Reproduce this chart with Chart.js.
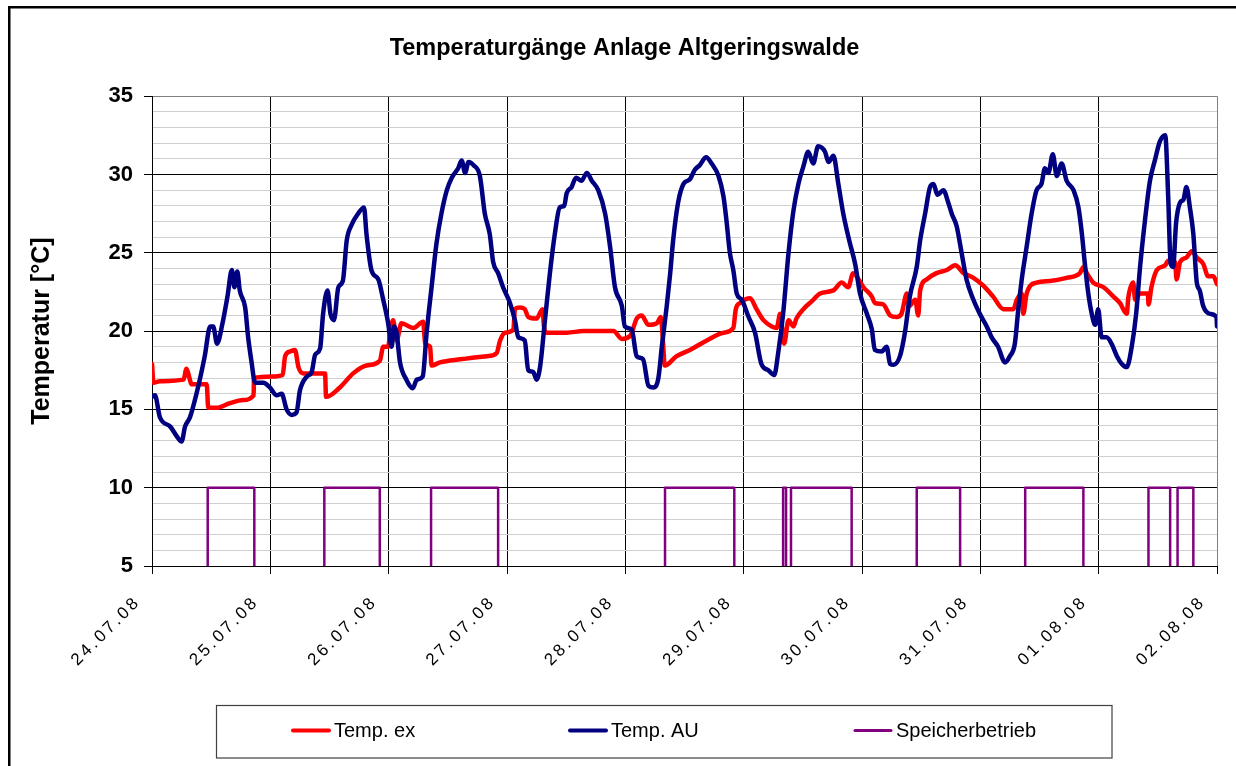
<!DOCTYPE html>
<html>
<head>
<meta charset="utf-8">
<script src="https://cdn.jsdelivr.net/npm/chart.js@4.4.1/dist/chart.umd.min.js"></script>
<style>
  html, body { margin: 0; padding: 0; background: #fff; }
  #wrap { width: 1236px; height: 766px; }
</style>
</head>
<body>
<div id="wrap"><canvas id="temp-chart"></canvas></div>
<script>
// time axis in hours since 24.07.08 00:00, one tick per day
const dayLabels = ["24.07.08", "25.07.08", "26.07.08", "27.07.08", "28.07.08",
                   "29.07.08", "30.07.08", "31.07.08", "01.08.08", "02.08.08"];

// Temp. ex
const exHours = [0, 0.3, 1.6, 6.4, 7.0, 7.6, 8.0, 11.1, 11.4, 13.1, 15.8, 18.5, 20.6, 20.7, 24.3, 26.5,
  27.0, 28.0, 29.0, 29.7, 30.7, 35.1, 35.3, 38.1, 40.8, 43.5, 46.2, 46.9, 47.9, 48.3, 48.9, 49.6,
  50.6, 53.0, 55.0, 55.4, 56.4, 56.7, 58.4, 62.5, 67.9, 69.9, 70.6, 71.6, 73.3, 73.6, 74.6, 75.6,
  76.3, 78.0, 79.2, 79.5, 80.0, 84.1, 87.5, 93.6, 95.3, 97.0, 98.3, 99.3, 100.7, 102.4, 103.2, 103.6,
  104.0, 106.4, 109.1, 112.5, 115.9, 117.9, 118.4, 119.3, 121.3, 122.6, 124.0, 125.7, 126.7, 127.4,
  128.2, 129.1, 130.1, 130.7, 132.1, 133.8, 135.5, 138.2, 139.9, 141.2, 142.2, 142.9, 144.3, 146.0,
  146.6, 148.3, 149.7, 151.0, 152.0, 153.1, 153.6, 154.8, 155.4, 155.8, 157.1, 159.1, 161.2, 162.9,
  164.6, 166.6, 168.6, 170.6, 172.7, 174.7, 175.4, 176.4, 176.7, 177.4, 179.4, 182.1, 185.5, 188.2,
  188.9, 189.6, 190.9, 193.0, 195.0, 196.3, 197.7, 198.0, 199.0, 199.4, 200.4, 202.0, 202.1, 202.7,
  203.8, 205.5, 206.1, 207.5, 207.8, 208.5, 209.8, 210.9, 211.9, 213.2, 214.2, 215.3, 216];
const exTemp = [17.9, 16.7, 16.8, 16.9, 17.6, 17.0, 16.6, 16.6, 15.1, 15.1, 15.4, 15.6, 15.9, 17.0, 17.1, 17.2,
  18.4, 18.7, 18.8, 17.7, 17.3, 17.3, 15.8, 16.4, 17.3, 17.8, 18.1, 19.0, 19.0, 19.9, 20.7, 19.4,
  20.5, 20.2, 20.6, 19.2, 19.0, 17.8, 18.0, 18.2, 18.4, 18.6, 19.4, 19.9, 20.1, 21.4, 21.5, 21.4,
  20.9, 20.8, 21.4, 20.3, 19.9, 19.9, 20.0, 20.0, 19.5, 19.7, 20.8, 21.0, 20.4, 20.5, 20.9, 19.5,
  17.8, 18.4, 18.8, 19.4, 19.9, 20.2, 21.4, 21.8, 22.1, 21.4, 20.7, 20.3, 20.2, 21.1,
  19.2, 20.7, 20.3, 20.8, 21.4, 21.9, 22.4, 22.6, 23.1, 22.8, 23.7, 23.5, 22.8, 22.2,
  21.8, 21.7, 21.0, 20.9, 21.1, 22.4, 21.6, 22.0, 21.0, 22.6, 23.3, 23.7, 23.9, 24.2,
  23.7, 23.4, 22.9, 22.2, 21.4, 21.4, 22.0, 22.4, 21.1, 22.4, 23.1, 23.2, 23.4, 23.7,
  24.1, 23.7, 23.1, 22.8, 22.2, 21.8, 21.1, 22.1, 23.1, 22.0, 22.4, 22.4, 21.7, 22.8,
  23.9, 24.2, 24.5, 24.4, 23.3, 24.4, 24.7, 25.1, 24.7, 24.3, 23.5, 23.5, 23.0];

// Temp. AU
const auHours = [0, 0.6, 1.6, 3.7, 5.0, 6.0, 6.7, 7.7, 9.4, 10.7, 11.8, 12.4, 13.2, 14.3, 15.3, 16.2,
  16.7, 17.3, 17.8, 18.9, 19.5, 20.2, 20.9, 22.6, 23.9, 25.3, 26.3, 27.3, 28.3, 29.3, 30.0, 31.4,
  32.4, 33.1, 34.1, 34.7, 35.6, 36.2, 36.9, 37.8, 38.7, 39.5, 40.5, 41.8, 43.0, 43.5, 44.5, 45.9,
  46.9, 47.9, 48.6, 49.1, 49.6, 50.3, 51.6, 52.9, 53.7, 54.9, 55.7, 56.7, 57.7, 58.7, 59.8, 60.8,
  62.1, 62.8, 63.5, 64.2, 65.2, 66.5, 67.5, 68.5, 69.2, 70.2, 71.2, 72.6, 73.6, 74.3, 75.6, 76.3,
  77.3, 78.0, 78.7, 79.7, 80.7, 81.7, 82.7, 83.6, 84.1, 85.1, 86.0, 87.1, 88.2, 89.2, 90.5, 91.9,
  92.9, 93.9, 95.3, 95.9, 97.3, 98.3, 99.6, 100.7, 101.7, 102.7, 103.4, 104.4, 105.1, 105.7, 106.7,
  107.8, 109.1, 110.1, 111.1, 112.4, 113.5, 114.9, 115.9, 116.5, 117.2, 117.9, 118.6, 119.6, 121.0,
  122.3, 123.6, 125.0, 126.2, 127.0, 128.0, 129.1, 130.1, 131.1, 132.1, 133.1, 134.1, 135.1, 136.5,
  137.2, 138.2, 139.2, 140.2, 141.4, 142.6, 143.6, 145.0, 146.0, 146.6, 148.0, 149.0, 149.7, 150.4,
  151.7, 152.7, 153.7, 155.1, 155.8, 156.8, 157.8, 158.5, 159.3, 160.5, 161.5, 162.2, 163.2, 164.2,
  165.2, 166.6, 167.9, 169.3, 170.3, 171.6, 173.0, 174.0, 175.0, 175.7, 176.4, 177.4, 178.4, 179.4,
  180.4, 181.1, 181.8, 182.7, 183.5, 184.5, 185.5, 186.9, 187.9, 188.6, 189.2, 189.9, 190.6, 191.3,
  191.9, 192.6, 193.6, 194.6, 195.7, 196.7, 197.7, 198.7, 199.6, 200.4, 201.4, 202.4, 203.4, 204.4,
  205.5, 206.1, 206.6, 207.1, 207.7, 208.5, 209.2, 209.8, 210.5, 211.2, 211.9, 212.5, 213.2, 214.6,
  215.9, 216];
const auTemp = [15.8, 15.9, 14.5, 13.9, 13.3, 12.95, 13.9, 14.5, 16.5, 18.4, 20.3, 20.3, 19.2, 20.5, 22.2, 23.9,
  22.8, 23.8, 22.6, 21.5, 19.6, 18.0, 16.7, 16.7, 16.4, 15.9, 16.0, 15.0, 14.65, 14.8, 16.2, 17.1,
  17.4, 18.5, 18.9, 21.1, 22.6, 21.1, 20.7, 22.8, 23.2, 25.8, 26.8, 27.5, 27.9, 26.2, 23.9, 23.3,
  22.0, 20.5, 19.0, 20.3, 19.9, 18.0, 16.9, 16.35, 16.9, 17.1, 19.9, 22.8, 25.6, 27.5, 29.0, 29.8,
  30.4, 30.9, 30.1, 30.8, 30.6, 29.9, 27.5, 26.2, 24.4, 23.7, 22.8, 21.8, 20.7, 19.6, 19.4, 17.5,
  17.4, 16.9, 17.7, 20.7, 23.7, 26.2, 27.9, 28.0, 28.8, 29.2, 29.8, 29.6, 30.1, 29.6, 29.0, 27.5,
  25.4, 22.8, 21.6, 20.3, 20.1, 18.4, 18.2, 16.5, 16.4, 17.0, 19.0, 21.6, 23.7, 25.8, 28.2,
  29.4, 29.7, 30.3, 30.6, 31.1, 30.7, 29.9, 28.6, 27.1, 25.0, 23.9, 22.4, 22.0, 20.9,
  19.9, 17.9, 17.5, 17.2, 18.6, 21.1, 25.0, 27.7, 29.4, 30.5, 31.45, 30.7, 31.8, 31.45,
  30.8, 31.2, 29.4, 27.5, 25.8, 24.3, 22.4, 21.1, 20.1, 18.8, 18.7, 19.0, 17.9, 17.85,
  18.4, 19.9, 22.2, 24.1, 25.8, 27.5, 29.2, 29.4, 28.7, 29.0, 28.2, 27.5, 26.7, 25.0,
  23.3, 22.0, 21.1, 20.3, 19.6, 19.0, 18.0, 18.4, 19.2, 21.4, 23.3, 25.4, 27.5, 29.0,
  29.4, 30.4, 30.1, 31.3, 29.9, 30.7, 29.6, 29.0, 27.9, 26.2, 24.3, 22.4, 21.1, 20.4,
  21.4, 19.6, 19.6, 19.2, 18.4, 17.9, 17.7, 19.0, 21.1, 24.1, 27.1, 29.6, 30.9, 32.1,
  32.5, 28.6, 24.3, 24.1, 26.9, 28.2, 28.4, 29.2, 27.9, 26.2, 23.1, 22.6, 21.6, 21.1,
  20.9, 20.3];

// Speicherbetrieb: switching times and state (10 = on, 0 = off)
const storeHours = [0, 11.3, 20.75, 34.95, 46.2, 56.6, 70.2, 104.05, 118.1, 128.0, 128.6, 129.6,
  141.9, 155.1, 163.9, 177.1, 188.9, 202.1, 206.5, 208.0, 211.2, 216];
const storeState = [0, 10, 0, 10, 0, 10, 0, 10, 0, 10, 0, 10,
  0, 10, 0, 10, 0, 10, 0, 10, 0, 0];

const yTicks = [5, 10, 15, 20, 25, 30, 35];

const toPoints = (xs, ys) => xs.map((x, i) => ({ x: x, y: ys[i] }));

Chart.defaults.font.family = '"Liberation Sans", Arial, sans-serif';
Chart.defaults.color = '#000';

// white page, outer frame and the boxed legend at the bottom
const frameAndLegend = {
  id: 'frameAndLegend',
  beforeDraw(chart) {
    const ctx = chart.ctx;
    ctx.save();
    ctx.fillStyle = '#fff';
    ctx.fillRect(0, 0, chart.width, chart.height);
    ctx.strokeStyle = '#000';
    ctx.lineWidth = 2.5;
    ctx.strokeRect(9.25, 7.25, 1400, 900);
    ctx.restore();
  },
  afterDatasetsDraw(chart) {
    // x tick labels are drawn after this (ticks.z = 1), spaced out
    chart.ctx.letterSpacing = '3px';
  },
  afterDraw(chart) {
    const ctx = chart.ctx;
    ctx.letterSpacing = '0px';
    ctx.save();
    ctx.strokeStyle = '#404040';
    ctx.lineWidth = 1.2;
    ctx.strokeRect(216.5, 705.5, 895.5, 52.5);
    const starts = [293, 570, 855];
    const y = 730.5;
    ctx.font = '20px "Liberation Sans", Arial, sans-serif';
    ctx.textBaseline = 'middle';
    ctx.fillStyle = '#000';
    chart.data.datasets.forEach((ds, i) => {
      const x0 = starts[i];
      ctx.strokeStyle = ds.borderColor;
      ctx.lineWidth = i === 2 ? 3 : 4;
      ctx.lineCap = 'round';
      ctx.beginPath();
      ctx.moveTo(x0, y);
      ctx.lineTo(x0 + 36, y);
      ctx.stroke();
      ctx.fillText(ds.label, x0 + 41, y + 1);
    });
    ctx.restore();
  }
};

new Chart(document.getElementById('temp-chart'), {
  type: 'line',
  data: {
    datasets: [{
      label: 'Temp. ex',
      data: toPoints(exHours, exTemp),
      borderColor: '#FF0000',
      borderWidth: 4.5,
      cubicInterpolationMode: 'monotone',
      order: 2
    }, {
      label: 'Temp. AU',
      data: toPoints(auHours, auTemp),
      borderColor: '#000080',
      borderWidth: 4.5,
      cubicInterpolationMode: 'monotone',
      order: 1
    }, {
      label: 'Speicherbetrieb',
      data: toPoints(storeHours, storeState),
      borderColor: '#800080',
      borderWidth: 2.5,
      stepped: 'before',
      order: 0
    }]
  },
  options: {
    responsive: true,
    maintainAspectRatio: false,
    animation: false,
    events: [],
    elements: {
      point: { radius: 0 },
      line: { tension: 0, borderJoinStyle: 'round', borderCapStyle: 'round', fill: false }
    },
    layout: { padding: { left: 13, right: 0, top: 0, bottom: 80 } },
    plugins: {
      legend: { display: false },
      tooltip: { enabled: false },
      title: {
        display: true,
        text: 'Temperaturgänge Anlage Altgeringswalde',
        font: { size: 23.5, weight: 'bold' },
        padding: { top: 34, bottom: 34 }
      }
    },
    scales: {
      x: {
        type: 'linear',
        min: 0,
        max: 216,
        ticks: {
          stepSize: 24,
          autoSkip: false,
          maxRotation: 45,
          minRotation: 45,
          padding: 18,
          labelOffset: -14,
          z: 1,
          font: { size: 17 },
          callback: (v) => dayLabels[Math.round(v / 24)]
        },
        grid: {
          color: (c) => (c.tick && c.tick.value === 216 ? '#808080' : '#000'),
          tickColor: '#000',
          tickLength: 8,
          lineWidth: 1
        },
        border: { color: '#000', width: 1 },
        afterFit: (scale) => {
          scale.height = 120;
          scale.paddingLeft = 0;
          scale.paddingRight = 19;
        }
      },
      y: {
        min: 5,
        max: 35,
        ticks: {
          stepSize: 1,
          autoSkip: false,
          padding: 11,
          font: { size: 22, weight: 'bold' },
          callback: (v) => (yTicks.includes(v) ? v : '')
        },
        grid: {
          color: (c) => {
            const v = c.tick ? c.tick.value : 0;
            if (v === 35) return '#808080';
            return v % 5 === 0 ? '#000' : '#d0d0d0';
          },
          tickColor: (c) => (c.tick && c.tick.value % 5 === 0 ? '#000' : 'rgba(0,0,0,0)'),
          tickLength: 8,
          lineWidth: 1
        },
        border: { color: '#000', width: 1 },
        title: {
          display: true,
          text: 'Temperatur [°C]',
          font: { size: 25, weight: 'bold' },
          padding: { top: 14, bottom: 0 }
        },
        afterFit: (scale) => { scale.width = 139; }
      }
    }
  },
  plugins: [frameAndLegend]
});
</script>
</body>
</html>
